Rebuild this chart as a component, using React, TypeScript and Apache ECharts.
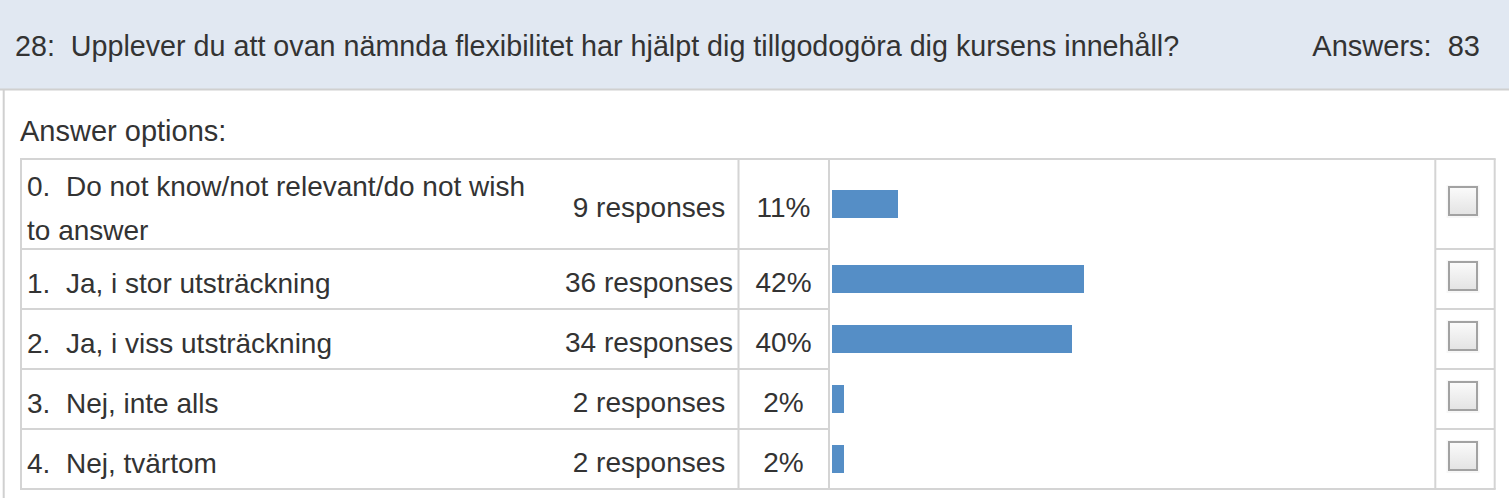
import React, { useEffect, useRef } from "react";
import * as echarts from "echarts";

const questionNumber = "28:";
const questionText =
  "Upplever du att ovan nämnda flexibilitet har hjälpt dig tillgodogöra dig kursens innehåll?";
const answersLabel = "Answers:";
const answersTotal = 83;
const sectionTitle = "Answer options:";
const optionLabels = [
  "Do not know/not relevant/do not wish to answer",
  "Ja, i stor utsträckning",
  "Ja, i viss utsträckning",
  "Nej, inte alls",
  "Nej, tvärtom",
];
const responseCounts = [9, 36, 34, 2, 2];
const percentages = [11, 42, 40, 2, 2];

// layout
const W = 1509;
const H = 498;
const FONT_FAMILY = "'Liberation Sans', Arial, Helvetica, sans-serif";
const FONT = `28px ${FONT_FAMILY}`;
const TEXT_COLOR = "#333333";
const LINE_COLOR = "#d4d4d4";
const BAR_COLOR = "#558ec6";
const TABLE_TOP = 159;
const TABLE_BOTTOM = 489;
const ROW_HEIGHTS = [90, 60, 60, 60, 60];
const X_LEFT = 21;
const X_RESP_SEP = 738.5;
const X_BAR_SEP = 829;
const X_CHECK_SEP = 1435.3;
const X_RIGHT = 1494.7;
const BAR_LEFT = 832;
const BAR_FULL = 600;
const LABEL_MAX_WIDTH = 520;

function wrapWords(s: string, font: string, maxW: number): string {
  const ctx = document.createElement("canvas").getContext("2d");
  if (!ctx) return s;
  ctx.font = font;
  const words = s.split(" ");
  const lines: string[] = [];
  let cur = "";
  words.forEach((w) => {
    const cand = cur ? cur + " " + w : w;
    if (cur && ctx.measureText(cand).width > maxW) {
      lines.push(cur);
      cur = w;
    } else {
      cur = cand;
    }
  });
  if (cur) lines.push(cur);
  return lines.join("\n");
}

const App: React.FC = () => {
  const ref = useRef<HTMLDivElement>(null);

  useEffect(() => {
    if (!ref.current) return;
    const chart = echarts.init(ref.current, undefined, { renderer: "svg" });

    const rowTops: number[] = [];
    let acc = TABLE_TOP;
    ROW_HEIGHTS.forEach((h) => {
      rowTops.push(acc);
      acc += h;
    });

    const graphic: any[] = [];
    const line = (x1: number, y1: number, x2: number, y2: number, color = LINE_COLOR, w = 2) =>
      graphic.push({
        type: "line",
        shape: { x1, y1, x2, y2 },
        style: { stroke: color, lineWidth: w },
        silent: true,
        z: 1,
      });
    const text = (
      t: string,
      x: number,
      y: number,
      align: string = "left",
      extra: any = {}
    ) =>
      graphic.push({
        type: "text",
        x,
        y,
        silent: true,
        z: 5,
        style: {
          text: t,
          font: FONT,
          fill: TEXT_COLOR,
          textAlign: align,
          textVerticalAlign: "middle",
          ...extra,
        },
      });

    // header band
    graphic.push({
      type: "rect",
      shape: { x: 0, y: 0, width: W, height: 89 },
      style: { fill: "#e1e8f2" },
      silent: true,
      z: 0,
    });
    line(0, 89.5, W, 89.5, "#d0d0d0", 2);
    line(3.7, 90, 3.7, H, "#d0d0d0", 2);

    text(`${questionNumber}\u00a0 ${questionText}`, 15, 45.5, "left", {
      font: `28.7px ${FONT_FAMILY}`,
    });
    text(`${answersLabel}\u00a0 ${answersTotal}`, 1480, 45.5, "right", {
      font: `29px ${FONT_FAMILY}`,
    });
    text(sectionTitle, 20, 130.5, "left", { font: `29px ${FONT_FAMILY}` });

    // table borders
    line(X_LEFT - 1, TABLE_TOP, X_RIGHT + 1, TABLE_TOP);
    line(X_LEFT - 1, TABLE_BOTTOM, X_RIGHT + 1, TABLE_BOTTOM);
    [X_LEFT, X_RESP_SEP, X_BAR_SEP, X_CHECK_SEP, X_RIGHT].forEach((x) =>
      line(x, TABLE_TOP, x, TABLE_BOTTOM)
    );
    rowTops.slice(1).forEach((y) => {
      line(X_LEFT, y, X_BAR_SEP, y);
      line(X_CHECK_SEP, y, X_RIGHT, y);
    });

    // row texts & checkboxes
    optionLabels.forEach((label, i) => {
      const cy = rowTops[i] + ROW_HEIGHTS[i] / 2;
      const full = wrapWords(`${i}.\u00a0 ${label}`, FONT, LABEL_MAX_WIDTH);
      text(full, 27, cy + 4, "left", { lineHeight: 44 });
      text(`${responseCounts[i]} responses`, 649, cy + 3.5, "center");
      text(`${percentages[i]}%`, 783.5, cy + 3.5, "center");

      const by = cy - 2.5 - 14.5;
      graphic.push({
        type: "rect",
        shape: { x: 1446.5, y: by - 2, width: 33, height: 33 },
        style: { fill: "#f7f7f7" },
        silent: true,
        z: 2,
      });
      graphic.push({
        type: "rect",
        shape: { x: 1449, y: by, width: 28, height: 28 },
        style: {
          fill: new echarts.graphic.LinearGradient(0, 0, 0, 1, [
            { offset: 0, color: "#fbfbfb" },
            { offset: 1, color: "#e3e3e3" },
          ]),
          stroke: "#a2a2a2",
          lineWidth: 2,
        },
        silent: true,
        z: 3,
      });
    });

    const option: any = {
      animation: false,
      backgroundColor: "#ffffff",
      grid: ROW_HEIGHTS.map((h, i) => ({
        left: BAR_LEFT,
        width: BAR_FULL,
        top: rowTops[i],
        height: h,
        containLabel: false,
      })),
      xAxis: ROW_HEIGHTS.map((_, i) => ({
        type: "value",
        gridIndex: i,
        min: 0,
        max: 100,
        show: false,
      })),
      yAxis: ROW_HEIGHTS.map((_, i) => ({
        type: "category",
        gridIndex: i,
        data: [optionLabels[i]],
        show: false,
      })),
      series: ROW_HEIGHTS.map((_, i) => ({
        type: "bar",
        xAxisIndex: i,
        yAxisIndex: i,
        data: [percentages[i]],
        barWidth: 28,
        itemStyle: { color: BAR_COLOR },
        silent: true,
        z: 4,
      })),
      graphic,
    };

    chart.setOption(option);
    return () => chart.dispose();
  }, []);

  return (
    <div
      ref={ref}
      style={{ position: "absolute", left: 0, top: 0, width: W, height: H }}
    />
  );
};

export default App;
